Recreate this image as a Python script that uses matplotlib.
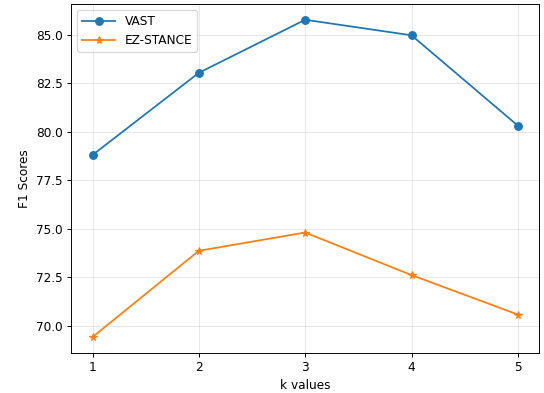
import matplotlib
matplotlib.use("Agg")
import matplotlib.pyplot as plt
import numpy as np

k_values = [1, 2, 3, 4, 5]
vast = [78.80, 83.03, 85.76, 84.96, 80.31]
ez_stance = [69.43, 73.87, 74.81, 72.62, 70.59]
y_ticks = [70.0, 72.5, 75.0, 77.5, 80.0, 82.5, 85.0]

# 544x393 px at 85 dpi
fig, ax = plt.subplots(figsize=(6.4, 4.624), dpi=85)
fig.subplots_adjust(left=0.131, right=0.991, top=0.990, bottom=0.102)

ax.plot(k_values, vast, marker='o', markersize=6.5, label='VAST')
ax.plot(k_values, ez_stance, marker='*', markersize=6.5, label='EZ-STANCE')

ax.set_xticks(k_values)
ax.set_yticks(y_ticks)
ax.tick_params(labelsize=10.3)
ax.set_xlabel('k values', fontsize=10.3)
ax.set_ylabel('F1 Scores', fontsize=10.3)
ax.grid(alpha=0.3)
ax.legend(loc='upper left', handlelength=2.7, fontsize=10.3)

fig.savefig('out.png', dpi=85)
